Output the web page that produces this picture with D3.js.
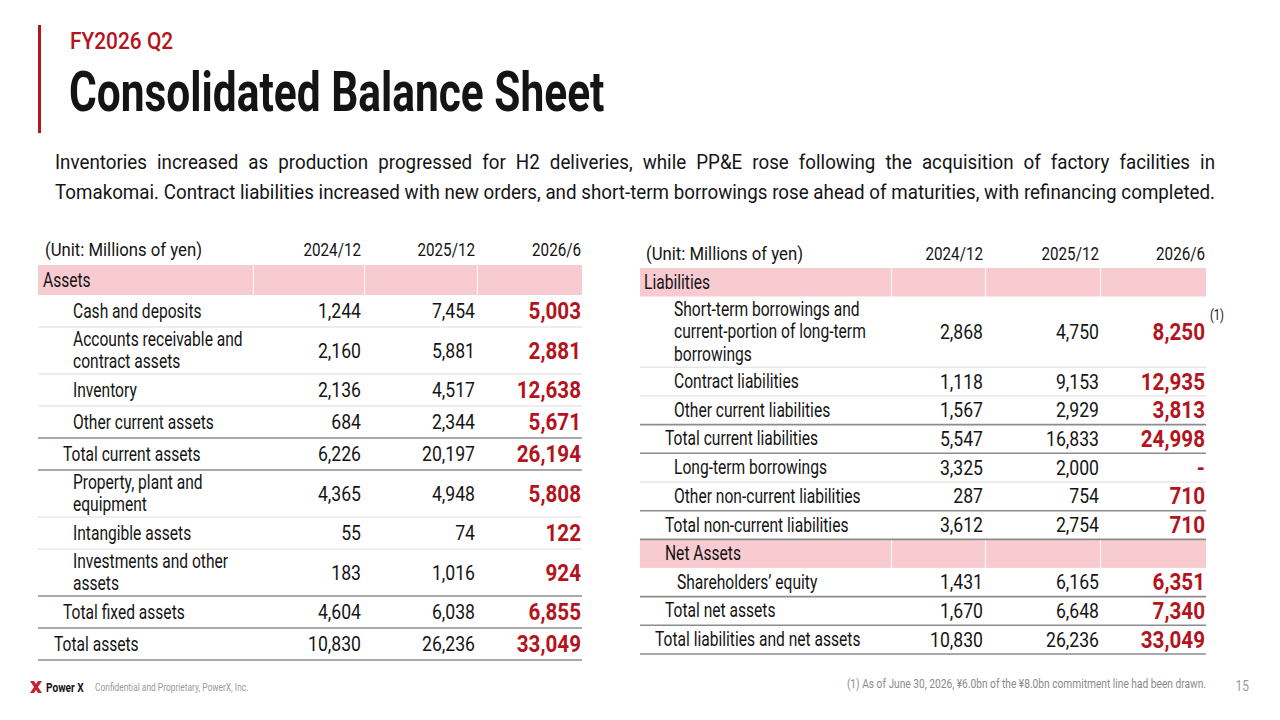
<!DOCTYPE html>
<html><head><meta charset="utf-8">
<script src="https://cdn.jsdelivr.net/npm/d3@7/dist/d3.min.js"></script>
<style>html,body{margin:0;padding:0;background:#fff;} svg{display:block;font-family:Roboto,"Noto Sans",sans-serif;}</style>
</head><body><svg id="c" width="1280" height="720"></svg>
<script>
// ---------- data ----------
const periods = ["2024/12", "2025/12", "2026/6"];
const unitLabel = "(Unit: Millions of yen)";
const kicker = "FY2026 Q2";
const title = "Consolidated Balance Sheet";
const summaryLines = [
  "Inventories increased as production progressed for H2 deliveries, while PP&E rose following the acquisition of factory facilities in",
  "Tomakomai. Contract liabilities increased with new orders, and short-term borrowings rose ahead of maturities, with refinancing completed."
];
const assetLabels = ["Assets", "Cash and deposits", "Accounts receivable and\ncontract assets", "Inventory", "Other current assets",
  "Total current assets", "Property, plant and\nequipment", "Intangible assets", "Investments and other\nassets", "Total fixed assets", "Total assets"];
const assetKinds = ["section", "item", "item", "item", "item", "subtotal", "item", "item", "item", "subtotal", "total"];
const assets2024 = [null, 1244, 2160, 2136, 684, 6226, 4365, 55, 183, 4604, 10830];
const assets2025 = [null, 7454, 5881, 4517, 2344, 20197, 4948, 74, 1016, 6038, 26236];
const assets2026 = [null, 5003, 2881, 12638, 5671, 26194, 5808, 122, 924, 6855, 33049];

const liabLabels = ["Liabilities", "Short-term borrowings and\ncurrent-portion of long-term\nborrowings", "Contract liabilities", "Other current liabilities",
  "Total current liabilities", "Long-term borrowings", "Other non-current liabilities", "Total non-current liabilities",
  "Net Assets", "Shareholders\u2019 equity", "Total net assets", "Total liabilities and net assets"];
const liabKinds = ["section", "item", "item", "item", "subtotal", "item", "item", "subtotal", "subsection", "item2", "subtotal", "total"];
const liab2024 = [null, 2868, 1118, 1567, 5547, 3325, 287, 3612, null, 1431, 1670, 10830];
const liab2025 = [null, 4750, 9153, 2929, 16833, 2000, 754, 2754, null, 6165, 6648, 26236];
const liab2026 = [null, 8250, 12935, 3813, 24998, 0, 710, 710, null, 6351, 7340, 33049];
const liabNotes = [null, "(1)", null, null, null, null, null, null, null, null, null, null];

const footnote = "(1)  As of June 30, 2026, \u00a56.0bn of the \u00a58.0bn commitment line had been drawn.";
const confidential = "Confidential and Proprietary, PowerX, Inc.";
const brand = "Power X";
const pageNo = "15";

// ---------- style ----------
const RED = "#b3141d", INK = "#141414", PINK = "#f8cbd0", LIGHT = "#dcdcdc", DARK = "#8c8c8c", GRAY = "#8a8a8a";
const fmt = v => v === 0 ? "-" : d3.format(",")(v);

const svg = d3.select("#c");
function T(sel, x, y, s, o) {
  return sel.append("text")
    .attr("transform", `translate(${x},${y}) scale(${o.sx || 1},1)`)
    .attr("text-anchor", o.anchor || "start")
    .style("font-size", o.size + "px")
    .style("font-weight", o.weight || 400)
    .attr("fill", o.fill || INK)
    .text(s);
}

// ---------- header ----------
svg.append("rect").attr("x", 38).attr("y", 25).attr("width", 3).attr("height", 108).attr("fill", RED);
T(svg, 70, 49, kicker, {size: 24, weight: 500, fill: RED, sx: 0.87});
T(svg, 69, 111, title, {size: 55, weight: 700, sx: 0.772});

// summary paragraph: last line sets the horizontal scale, first line is justified with word spacing
(function () {
  const W = 1160, size = 20.5;
  const probe = T(svg, 0, -100, summaryLines[1], {size});
  const nat = probe.node().getComputedTextLength();
  probe.remove();
  const sx = W / nat;
  summaryLines.forEach((l, i) => {
    const t = T(svg, 55, 169 + i * 30, l, {size, sx});
    const len = t.node().getComputedTextLength();
    const spaces = (l.match(/ /g) || []).length;
    if (len < W / sx - 0.5) t.style("word-spacing", ((W / sx - len) / spaces) + "px");
  });
})();

// ---------- tables ----------
function drawTable(cfg, labels, kinds, series, notes) {
  const g = svg.append("g");
  const colX = d3.scaleOrdinal(periods, cfg.colRight);
  const nLines = labels.map(l => l.split("\n").length);
  const heights = kinds.map((k, i) => k === "section" || k === "subsection" ? cfg.hSection : cfg.hRow + (nLines[i] - 1) * cfg.lineExtra);
  const tops = [cfg.top, ...d3.cumsum(heights).map(h => cfg.top + h)];
  // column header
  T(g, cfg.unitX, cfg.headY, unitLabel, {size: 19, sx: 0.88});
  periods.forEach(p => T(g, colX(p), cfg.headY, p, {size: 19, sx: 0.8, anchor: "end"}));
  const cells = [cfg.x0, ...cfg.edges, cfg.x1];
  labels.forEach((lab, i) => {
    const y0 = tops[i], h = heights[i], cy = y0 + h / 2, k = kinds[i];
    if (k === "section" || k === "subsection") {
      for (let c = 0; c < cells.length - 1; c++) {
        g.append("rect").attr("x", cells[c] + (c ? 1 : 0)).attr("y", y0).attr("width", cells[c + 1] - cells[c] - (c ? 1 : 0)).attr("height", h).attr("fill", PINK);
      }
    }
    // separator above row
    const prev = kinds[i - 1];
    if (i > 0 && prev !== "section" && prev !== "subsection") {
      const dark = ["subtotal", "total"].includes(k) || ["subtotal", "total"].includes(prev) || k === "subsection";
      g.append("line").attr("x1", cfg.x0).attr("x2", cfg.x1).attr("y1", y0).attr("y2", y0)
        .attr("stroke", dark ? DARK : LIGHT).attr("stroke-width", dark ? 1.6 : 1);
    }
    const lx = cfg.x0 + cfg.indent[k];
    const lines = lab.split("\n");
    lines.forEach((ln, j) => {
      const ly = cy + (j - (lines.length - 1) / 2) * cfg.lineGap + 6.5;
      T(g, lx, ly, ln, {size: 19.5, sx: 0.8});
    });
    series.forEach((s, si) => {
      const v = s[i];
      if (v === null) return;
      const last = si === series.length - 1;
      T(g, colX(periods[si]), cy + (last ? 8 : 7), fmt(v),
        last ? {size: 24, weight: 700, fill: RED, sx: 0.86, anchor: "end"} : {size: 21, sx: 0.84, anchor: "end"});
    });
    if (notes && notes[i]) T(g, cfg.x1 + 4, cy - 12, notes[i], {size: 14, sx: 0.8});
  });
  const yb = tops[tops.length - 1];
  g.append("line").attr("x1", cfg.x0).attr("x2", cfg.x1).attr("y1", yb).attr("y2", yb).attr("stroke", DARK).attr("stroke-width", 1.6);
}

drawTable({x0: 38, x1: 582, top: 265, headY: 256, unitX: 45, colRight: [361, 475, 581], edges: [253, 364, 477],
  hSection: 30, hRow: 32, lineExtra: 15, lineGap: 22,
  indent: {section: 5, item: 35, subtotal: 25, total: 16}},
  assetLabels, assetKinds, [assets2024, assets2025, assets2026], null);

drawTable({x0: 640, x1: 1206, top: 268, headY: 260, unitX: 646, colRight: [983, 1099, 1205], edges: [891, 985, 1100],
  hSection: 28.5, hRow: 28.7, lineExtra: 21, lineGap: 22.5,
  indent: {section: 4, item: 34, subtotal: 25, subsection: 25, item2: 37, total: 15}},
  liabLabels, liabKinds, [liab2024, liab2025, liab2026], liabNotes);

// ---------- footer ----------
const logo = svg.append("g").attr("transform", "translate(30,681)");
logo.append("path").attr("d", "M0,0 L4,0 L12,12 L8,12 Z M8,0 L12,0 L4,12 L0,12 Z").attr("fill", "#c8202c");
T(svg, 46, 692, brand, {size: 13, weight: 700, sx: 0.78});
T(svg, 95, 691, confidential, {size: 10.5, fill: "#9a9a9a", sx: 0.8});
T(svg, 1206, 688, footnote, {size: 12, fill: GRAY, sx: 0.85, anchor: "end"});
T(svg, 1249, 691, pageNo, {size: 14, fill: "#9a9a9a", sx: 0.85, anchor: "end"});
</script></body></html>
